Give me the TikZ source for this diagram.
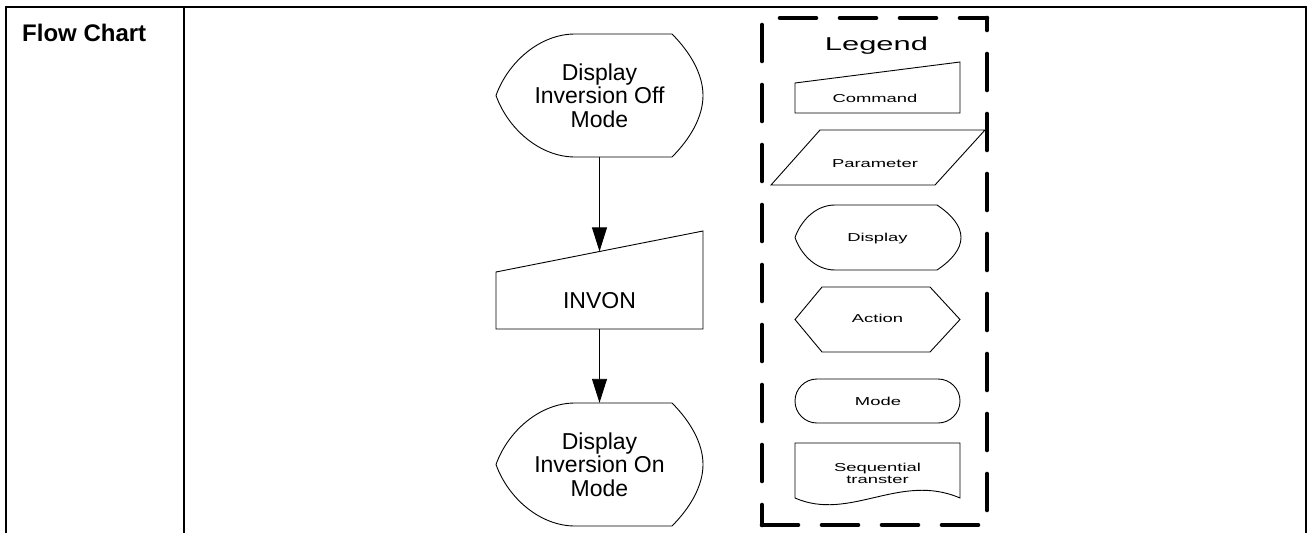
\documentclass[tikz,border=0pt]{standalone}
\usepackage{fontspec}
\usepackage{graphicx}
\setmainfont{Liberation Sans}
\usetikzlibrary{arrows.meta}
\newcommand\lgw[1]{\scalebox{1.6}[1]{#1}}
\begin{document}
\begin{tikzpicture}[x=1pt,y=-1pt,
  frame/.style={line width=2pt},
  outline/.style={line width=0.9pt, line join=miter},
  arr/.style={line width=0.9pt, -{Triangle[length=24pt,width=15pt]}},
  maintxt/.style={font=\fontsize{23}{23.5}\selectfont, align=center, inner sep=0pt},
  legtxt/.style={font=\fontsize{11.5}{12.5}\selectfont, align=center, inner sep=0pt},
  legbox/.style={line width=4.6pt, line cap=round, dash pattern=on 36pt off 24pt},
]
\useasboundingbox (0,0) rectangle (1309,533);

% table frame
\draw[frame] (6,533) -- (6,7) -- (1306,7) -- (1306,533);
\draw[frame] (184,7) -- (184,533);
\node[font=\bfseries\fontsize{24}{24}\selectfont, anchor=base west, inner sep=0pt] (title) at (22,41.7) {Flow Chart};

% main flow: shapes
\draw[outline] (575,34) -- (672,34) .. controls (690,52) and (703,74) .. (703,95.5)
   .. controls (703,117) and (690,139) .. (672,157) -- (575,157)
   .. controls (540,157) and (508,129) .. (496,95.5)
   .. controls (508,62) and (540,34) .. (575,34) -- cycle;
\draw[outline] (496,272) -- (703,231) -- (703,329) -- (496,329) -- cycle;
\draw[outline] (575,403) -- (672,403) .. controls (690,421) and (703,443) .. (703,464.5)
   .. controls (703,486) and (690,508) .. (672,526) -- (575,526)
   .. controls (540,526) and (508,498) .. (496,464.5)
   .. controls (508,431) and (540,403) .. (575,403) -- cycle;

\node[maintxt, minimum width=207pt, minimum height=123pt] (d1) at (599.5,95.5) {Display\\Inversion Off\\Mode};
\node[maintxt, minimum width=207pt, minimum height=57pt] (cmd) at (599.5,300.5) {INVON};
\node[maintxt, minimum width=207pt, minimum height=123pt] (d2) at (599.5,464.5) {Display\\Inversion On\\Mode};
\coordinate (cmdin) at (599.5,251.4);

\draw[arr] (d1.south) -- (cmdin);
\draw[arr] (cmd.south) -- (d2.north);

% legend box (each side with its own dash phase)
\draw[legbox, dash phase=42pt] (762,18) -- (987,18);
\draw[legbox, dash phase=24pt] (987,18) -- (987,525);
\draw[legbox, dash phase=0pt] (762,525) -- (987,525);
\draw[legbox, dash phase=53pt] (762,18) -- (762,525);
\node[font=\fontsize{18.6}{20}\selectfont, anchor=base, inner sep=0pt] (legend) at (876.5,50.7) {\scalebox{1.66}[1]{Legend}};

% legend shapes
\draw[outline] (795,83) -- (960,62) -- (960,113) -- (795,113) -- cycle;
\draw[outline] (820,130) -- (985,130) -- (935,185) -- (771,185) -- cycle;
\draw[outline] (835,205) -- (937,205) .. controls (952,215) and (961,226) .. (961,237.5)
   .. controls (961,249) and (952,260) .. (937,270) -- (835,270)
   .. controls (814,270) and (800,252) .. (795,237.5)
   .. controls (800,223) and (814,205) .. (835,205) -- cycle;
\draw[outline] (822,287) -- (930,287) -- (960,319.5) -- (930,352) -- (822,352) -- (795,319.5) -- cycle;
\draw[outline, rounded corners=22pt] (795,379) rectangle (960,423);
\draw[outline] (795,443) -- (960,443) -- (960,498) .. controls (900,472) and (850,522) .. (795,498) -- cycle;

\node[legtxt, anchor=base] (lcmd) at (875,102.3) {\lgw{Command}};
\node[legtxt, anchor=base] (lpar) at (875,167) {\lgw{Parameter}};
\node[legtxt, anchor=base] (ldisp) at (877.5,241.7) {\lgw{Display}};
\node[legtxt, anchor=base] (lact) at (877.5,322.7) {\lgw{Action}};
\node[legtxt, anchor=base] (lmode) at (878,405) {\lgw{Mode}};
\node[legtxt] (lseq) at (877.5,473.5) {\lgw{Sequential}\\\lgw{transter}};
\end{tikzpicture}
\end{document}
